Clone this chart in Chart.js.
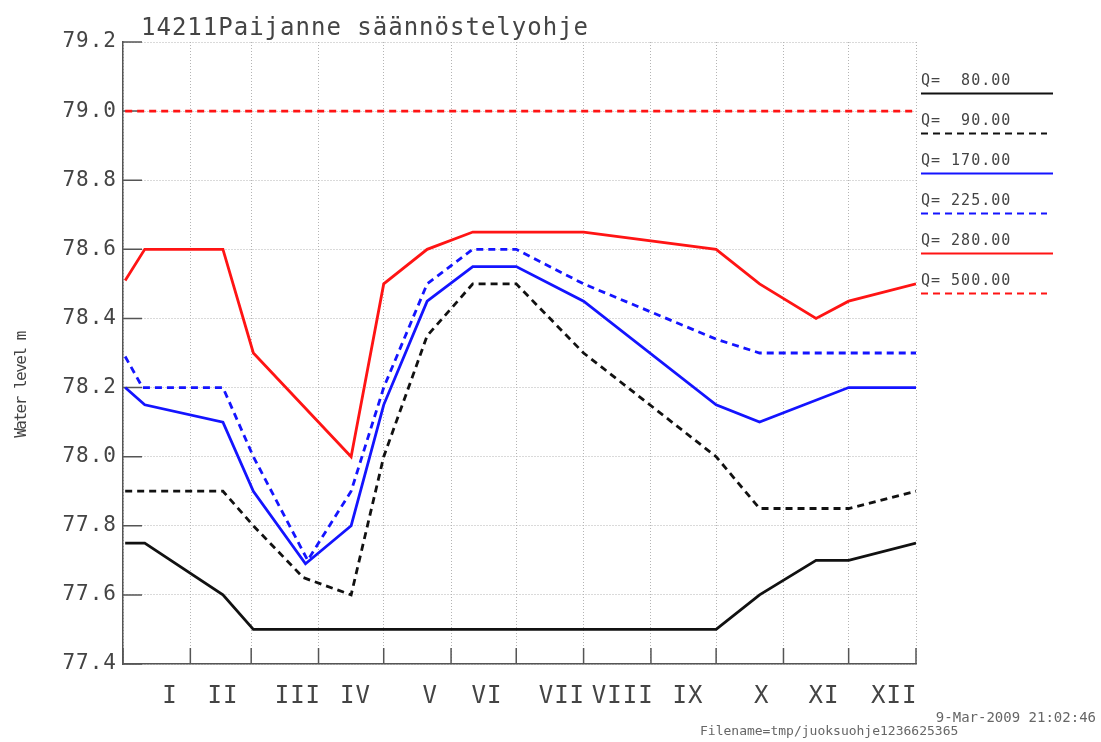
<!DOCTYPE html>
<html>
<head>
<meta charset="utf-8">
<script src="https://cdn.jsdelivr.net/npm/chart.js@4.4.0/dist/chart.umd.min.js"></script>
<style>
  html, body { margin: 0; padding: 0; background: #fff; }
  #wrap { width: 1101px; height: 742px; }
</style>
</head>
<body>
<div id="wrap"><canvas id="levelChart" width="1101" height="742"></canvas></div>
<script>
// Regulation curves for lake Paijanne: water level (m) by day of year for each discharge Q
const chartTitle = '14211Paijanne säännöstelyohje';
const yTitle = 'Water level m';
const stampDate = '9-Mar-2009 21:02:46';
const stampFile = 'Filename=tmp/juoksuohje1236625365';

const qValues = [80, 90, 170, 225, 280, 500];

const q80Days = [1, 10, 46, 60, 273, 293, 319, 334, 365];
const q80 = [77.75, 77.75, 77.6, 77.5, 77.5, 77.6, 77.7, 77.7, 77.75];

const q90Days = [1, 46, 60, 83, 105, 120, 140, 161, 181, 212, 273, 293, 334, 365];
const q90 = [77.9, 77.9, 77.8, 77.65, 77.6, 78.0, 78.35, 78.5, 78.5, 78.3, 78.0, 77.85, 77.85, 77.9];

const q170Days = [1, 10, 46, 60, 84, 105, 120, 140, 161, 181, 212, 273, 293, 334, 365];
const q170 = [78.2, 78.15, 78.1, 77.9, 77.69, 77.8, 78.15, 78.45, 78.55, 78.55, 78.45, 78.15, 78.1, 78.2, 78.2];

const q225Days = [1, 9, 46, 60, 85, 105, 120, 140, 161, 181, 212, 273, 293, 365];
const q225 = [78.29, 78.2, 78.2, 78.0, 77.7, 77.9, 78.2, 78.5, 78.6, 78.6, 78.5, 78.34, 78.3, 78.3];

const q280Days = [1, 10, 46, 60, 105, 120, 140, 161, 212, 273, 293, 319, 334, 365];
const q280 = [78.51, 78.6, 78.6, 78.3, 78.0, 78.5, 78.6, 78.65, 78.65, 78.6, 78.5, 78.4, 78.45, 78.5];

const q500Days = [1, 365];
const q500 = [79.0, 79.0];

// axes
const monthEnds = [0, 31, 59, 90, 120, 151, 181, 212, 243, 273, 304, 334, 365];
const monthNames = ['I', 'II', 'III', 'IV', 'V', 'VI', 'VII', 'VIII', 'IX', 'X', 'XI', 'XII'];
const monthLabelDays = [21.6, 46, 80.5, 107, 141.4, 167.5, 202, 230, 260, 294, 322.6, 355];
const yTicks = [77.4, 77.6, 77.8, 78.0, 78.2, 78.4, 78.6, 78.8, 79.0, 79.2];

const MONO = '"DejaVu Sans Mono", monospace';
const GRID = '#b4b4b4';
const AXIS = '#555';
const TEXT = '#444';

const toPoints = (days, vals) => days.map((d, i) => ({ x: d, y: vals[i] }));

const series = [
    { days: q80Days, vals: q80, color: '#111111', dash: [] },
    { days: q90Days, vals: q90, color: '#111111', dash: [7, 5] },
    { days: q170Days, vals: q170, color: '#1414ff', dash: [] },
    { days: q225Days, vals: q225, color: '#1414ff', dash: [7, 5] },
    { days: q280Days, vals: q280, color: '#ff1414', dash: [] },
    { days: q500Days, vals: q500, color: '#ff1414', dash: [7, 5] }
];

const datasets = series.map((s, i) => ({
    label: 'Q=' + qValues[i].toFixed(2).padStart(7),
    data: toPoints(s.days, s.vals),
    borderColor: s.color,
    borderDash: s.dash,
    borderWidth: 2.8,
    pointRadius: 0,
    tension: 0,
    fill: false
}));

const xTickValues = monthEnds.concat(monthLabelDays).sort((a, b) => a - b);

// tick marks inside the frame, title, side legend and stamps
const decor = {
    id: 'decor',
    beforeDraw(chart) {
        chart.ctx.letterSpacing = '1px';
    },
    beforeDatasetsDraw(chart) {
        const { ctx, chartArea: a, scales: { x, y } } = chart;
        ctx.save();
        ctx.strokeStyle = AXIS;
        ctx.lineWidth = 1.5;
        ctx.setLineDash([]);
        ctx.beginPath();
        yTicks.forEach(v => {
            const py = y.getPixelForValue(v);
            ctx.moveTo(a.left, py);
            ctx.lineTo(a.left + 19, py);
        });
        monthEnds.forEach(d => {
            const px = x.getPixelForValue(d);
            ctx.moveTo(px, a.bottom);
            ctx.lineTo(px, a.bottom - 16);
        });
        ctx.stroke();
        ctx.restore();
    },
    afterDraw(chart) {
        const ctx = chart.ctx;
        ctx.save();
        ctx.fillStyle = TEXT;
        ctx.textAlign = 'left';

        // title
        ctx.letterSpacing = '1px';
        ctx.font = '24px ' + MONO;
        ctx.textBaseline = 'alphabetic';
        ctx.fillText(chartTitle, 141, 35);

        // y axis title
        ctx.save();
        ctx.letterSpacing = '-1.5px';
        ctx.translate(22, 385);
        ctx.rotate(-Math.PI / 2);
        ctx.font = '16px ' + MONO;
        ctx.textAlign = 'center';
        ctx.textBaseline = 'middle';
        ctx.fillText(yTitle, 0, 0);
        ctx.restore();

        // legend: text with a line sample below
        ctx.font = '15px ' + MONO;
        ctx.textBaseline = 'middle';
        chart.data.datasets.forEach((ds, i) => {
            const ty = 81 + i * 40;
            ctx.fillStyle = TEXT;
            ctx.fillText(ds.label, 921, ty);
            ctx.beginPath();
            ctx.strokeStyle = ds.borderColor;
            ctx.lineWidth = 2.2;
            ctx.setLineDash(ds.borderDash);
            ctx.moveTo(921, ty + 12.5);
            ctx.lineTo(ds.borderDash.length ? 1047 : 1053, ty + 12.5);
            ctx.stroke();
        });
        ctx.setLineDash([]);

        // stamps
        ctx.letterSpacing = '0px';
        ctx.fillStyle = '#666';
        ctx.font = '14px ' + MONO;
        ctx.textAlign = 'right';
        ctx.fillText(stampDate, 1096, 718);
        ctx.font = '13px ' + MONO;
        ctx.textAlign = 'left';
        ctx.fillText(stampFile, 700, 732);

        ctx.restore();
        ctx.letterSpacing = '0px';
    }
};

new Chart(document.getElementById('levelChart').getContext('2d'), {
    type: 'line',
    data: { datasets },
    options: {
        responsive: false,
        animation: false,
        devicePixelRatio: 1,
        layout: { padding: { left: 0, right: 185, top: 42, bottom: 0 } },
        plugins: {
            legend: { display: false },
            title: { display: false },
            tooltip: { enabled: false }
        },
        scales: {
            x: {
                type: 'linear',
                min: 0,
                max: 365,
                afterBuildTicks: s => { s.ticks = xTickValues.map(v => ({ value: v })); },
                afterFit: s => { s.height = 78; },
                grid: {
                    color: c => (c.tick && monthEnds.includes(c.tick.value)) ? GRID : 'rgba(0,0,0,0)',
                    lineWidth: 1,
                    drawTicks: false
                },
                border: { color: AXIS, width: 1.5, dash: [1, 2] },
                ticks: {
                    autoSkip: false,
                    maxRotation: 0,
                    minRotation: 0,
                    padding: 18,
                    color: TEXT,
                    font: { family: MONO, size: 24 },
                    callback: v => {
                        const i = monthLabelDays.indexOf(v);
                        return i >= 0 ? monthNames[i] : '';
                    }
                }
            },
            y: {
                type: 'linear',
                min: 77.4,
                max: 79.2,
                afterBuildTicks: s => { s.ticks = yTicks.map(v => ({ value: v })); },
                afterFit: s => { s.width = 123; },
                grid: { color: GRID, lineWidth: 1, drawTicks: false },
                border: { color: AXIS, width: 1.5, dash: [1, 2] },
                ticks: {
                    padding: 6,
                    color: TEXT,
                    font: { family: MONO, size: 21 },
                    callback: v => v.toFixed(1)
                }
            }
        }
    },
    plugins: [decor]
});
</script>
</body>
</html>
